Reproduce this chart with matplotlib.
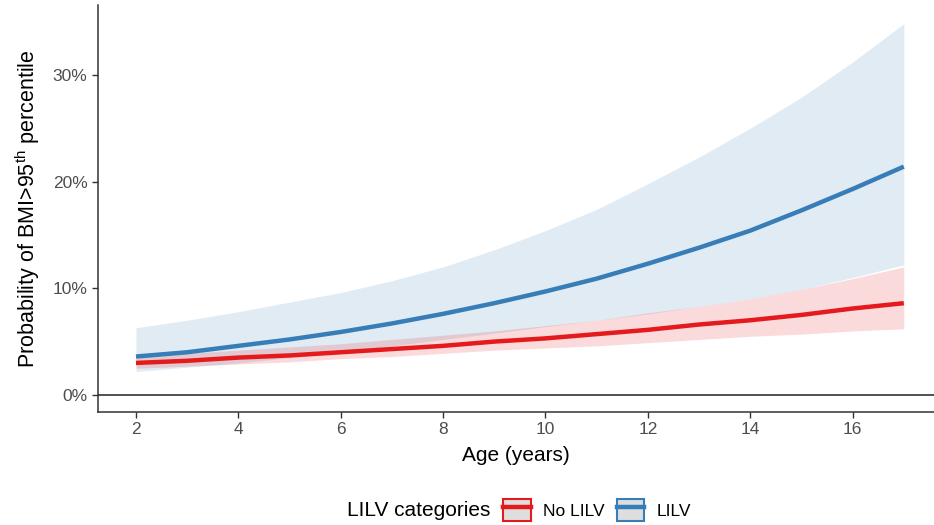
import matplotlib.pyplot as plt
from matplotlib.patches import Patch
from matplotlib.lines import Line2D
from matplotlib.ticker import PercentFormatter

plt.rcParams['font.family'] = ['Liberation Sans', 'DejaVu Sans']
plt.rcParams['mathtext.fontset'] = 'custom'
plt.rcParams['mathtext.rm'] = 'Liberation Sans'
plt.rcParams['mathtext.it'] = 'Liberation Sans:italic'

# Age (years)
age = [2, 3, 4, 5, 6, 7, 8, 9, 10, 11, 12, 13, 14, 15, 16, 17]

# LILV group: predicted probability and 95% CI (%)
lilv = [3.6, 4.0, 4.6, 5.2, 5.9, 6.7, 7.6, 8.6, 9.7, 10.9, 12.3, 13.8, 15.4, 17.3, 19.3, 21.4]
lilv_lo = [2.2, 2.6, 3.0, 3.5, 4.0, 4.6, 5.2, 5.8, 6.4, 7.0, 7.6, 8.3, 9.0, 9.9, 11.0, 12.2]
lilv_hi = [6.3, 7.0, 7.8, 8.7, 9.6, 10.7, 12.0, 13.6, 15.4, 17.4, 19.8, 22.3, 25.0, 27.9, 31.2, 34.8]

# No LILV group
nolilv = [3.0, 3.2, 3.5, 3.7, 4.0, 4.3, 4.6, 5.0, 5.3, 5.7, 6.1, 6.6, 7.0, 7.5, 8.1, 8.6]
nolilv_lo = [2.5, 2.7, 2.9, 3.1, 3.4, 3.6, 3.9, 4.2, 4.4, 4.6, 4.9, 5.2, 5.5, 5.7, 6.0, 6.2]
nolilv_hi = [3.7, 3.9, 4.2, 4.5, 4.8, 5.2, 5.6, 6.0, 6.5, 7.0, 7.7, 8.3, 9.0, 9.9, 10.9, 12.0]

red = '#E41A1C'
blue = '#377EB8'

W, H = 934, 525
fig = plt.figure(figsize=(W / 100, H / 100), dpi=100)
ax = fig.add_axes([98 / W, 1 - 412 / H, 836 / W, 407 / H])

ax.fill_between(age, lilv_lo, lilv_hi, color=blue, alpha=0.15, linewidth=0)
ax.plot(age, lilv, color=blue, linewidth=3.2, solid_capstyle='butt')
ax.fill_between(age, nolilv_lo, nolilv_hi, color=red, alpha=0.16, linewidth=0)
ax.plot(age, nolilv, color=red, linewidth=3.2, solid_capstyle='butt')

ax.axhline(0, color='#222222', linewidth=1.1)

ax.set_xlim(1.258, 17.59)
ax.set_ylim(-1.6, 36.55)
ax.set_xticks(range(2, 17, 2))
ax.set_yticks([0, 10, 20, 30])
ax.yaxis.set_major_formatter(PercentFormatter(decimals=0))

for s in ['top', 'right']:
    ax.spines[s].set_visible(False)
for s in ['left', 'bottom']:
    ax.spines[s].set_color('#333333')
    ax.spines[s].set_linewidth(1.1)
ax.tick_params(colors='#333333', labelcolor='#4D4D4D', labelsize=12.5, length=4, width=1.0)

ax.set_xlabel('Age (years)', fontsize=15, labelpad=6)
ax.set_ylabel(r'Probability of BMI>95$^{\mathrm{th}}$ percentile', fontsize=15.5, labelpad=8)

# Legend at the bottom
key_bg = '#DEDEDE'
handles = [
    (Patch(facecolor=key_bg, edgecolor=red, linewidth=1.5), Line2D([], [], color=red, linewidth=3.2)),
    (Patch(facecolor=key_bg, edgecolor=blue, linewidth=1.5), Line2D([], [], color=blue, linewidth=3.2)),
]
fig.text(347 / W, 1 - 510 / H, 'LILV categories', fontsize=15, ha='left', va='center')
fig.legend(handles, ['No LILV', 'LILV'], loc='center left', bbox_to_anchor=(503 / W, 1 - 510 / H),
           ncol=2, frameon=False, fontsize=12.5, handlelength=1.6, handleheight=1.6,
           handletextpad=0.7, columnspacing=0.7, borderaxespad=0, borderpad=0)

fig.savefig('out.png', dpi=100)
